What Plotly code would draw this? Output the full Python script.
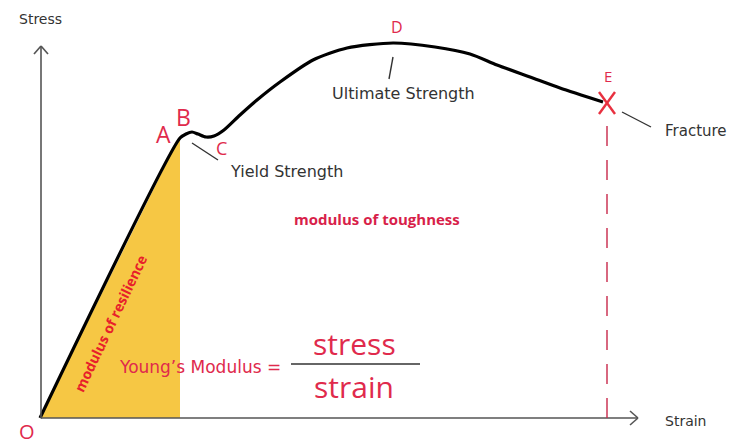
import plotly.graph_objects as go

# Origin of the diagram in page pixels: (40, 418); data units = pixels from origin
OX, OY = 40, 418

# Stress-strain curve (schematic)
strain = [0, 140, 146, 152, 158, 166, 174, 184, 200, 217, 240, 273, 307, 353, 395, 430, 457, 490, 520, 563]
stress = [0, 280, 284, 286, 284, 281, 282, 288, 303, 318, 336, 358, 370, 375, 371, 364, 353, 341, 330, 316]

# Elastic region (modulus of resilience) fill
res_strain = [0, 140, 140]
res_stress = [0, 282, 0]

# Point labels
pt_labels = ["A", "B", "C", "D", "E"]
pt_strain = [123, 143, 181, 357, 568]
pt_stress = [284, 301, 270, 391, 342]
pt_sizes = [23, 23, 18, 16, 15]

fracture_strain = 567
fracture_stress = 315

RED = "#e02a4c"
DARK = "#333333"
AXIS = "#555555"
FONT = "Open Sans"
SANS = "DejaVu Sans"
NARROW = "Liberation Sans Narrow, Open Sans"


def P(px, py):
    return px - OX, OY - py


fig = go.Figure()

fig.add_trace(go.Scatter(x=res_strain, y=res_stress, fill="toself", mode="lines",
                         line=dict(width=0), fillcolor="#f6c744", hoverinfo="skip"))
fig.add_trace(go.Scatter(x=strain, y=stress, mode="lines",
                         line=dict(color="black", width=3.2, shape="spline", smoothing=0.7),
                         hoverinfo="skip"))

shapes = []


def seg(p1, p2, color, width, dash=None):
    x0, y0 = P(*p1)
    x1, y1 = P(*p2)
    d = dict(type="line", xref="x", yref="y", x0=x0, y0=y0, x1=x1, y1=y1,
             line=dict(color=color, width=width))
    if dash:
        d["line"]["dash"] = dash
    shapes.append(d)


# axes
seg((41, 418), (638, 418), AXIS, 1.6)
seg((630, 411), (638, 418), AXIS, 1.6)
seg((630, 425), (638, 418), AXIS, 1.6)
seg((41, 418), (41, 46), AXIS, 1.6)
seg((34, 54), (41, 46), AXIS, 1.6)
seg((48, 54), (41, 46), AXIS, 1.6)

# fracture dashed line
shapes.append(dict(type="line", xref="x", yref="y", x0=fracture_strain, y0=0,
                   x1=fracture_strain, y1=fracture_stress - 10,
                   line=dict(color="#c8284a", width=1.4, dash="20px,14px")))
# fracture X
fx, fy = fracture_strain, fracture_stress
for dx in (-8, 8):
    shapes.append(dict(type="line", xref="x", yref="y", x0=fx - dx, y0=fy + 11,
                       x1=fx + dx, y1=fy - 11, line=dict(color="#e8303f", width=2.4)))

# leader lines
seg((192, 143), (218, 160), DARK, 1.4)
seg((393, 57), (389, 79), DARK, 1.4)
seg((622, 112), (651, 127), DARK, 1.4)

# fraction bar
seg((291, 364), (420, 364), DARK, 1.4)

ann = []


def text(px, py, s, size, color, family=FONT, angle=0, bold=False):
    x, y = P(px, py)
    if bold:
        s = "<b>" + s + "</b>"
    ann.append(dict(x=x, y=y, xref="x", yref="y", text=s, showarrow=False,
                    font=dict(family=family, size=size, color=color), textangle=angle,
                    xanchor="center", yanchor="middle"))


for lab, sx, sy, sz in zip(pt_labels, pt_strain, pt_stress, pt_sizes):
    ann.append(dict(x=sx, y=sy, xref="x", yref="y", text=lab, showarrow=False,
                    font=dict(family=FONT, size=sz, color=RED),
                    xanchor="center", yanchor="middle"))

text(27, 431, "O", 20, RED)
text(40, 19, "Stress", 14, DARK, family=SANS)
text(685, 421, "Strain", 14, DARK, family=SANS)
text(286, 171, "Yield Strength", 16, DARK, family=SANS)
text(403, 93, "Ultimate Strength", 16, DARK, family=SANS)
text(696, 131, "Fracture", 15, DARK, family=SANS)
text(377, 219, "modulus of toughness", 15, "#d81f4a", family=NARROW, bold=True)
text(110, 323, "modulus of resilience", 14, "#e8202a", family=NARROW, angle=-64.5, bold=True)
text(200, 367, "Young\u2019s Modulus =", 17, RED, family=SANS)
text(354, 343, "stress", 30, RED)
text(354, 386, "strain", 30, RED)

fig.update_layout(
    width=736, height=446,
    margin=dict(l=0, r=0, t=0, b=0),
    paper_bgcolor="white", plot_bgcolor="white",
    showlegend=False,
    xaxis=dict(range=[-OX, 736 - OX], visible=False, fixedrange=True),
    yaxis=dict(range=[OY - 446, OY], visible=False, fixedrange=True),
    shapes=shapes, annotations=ann,
)

fig.write_html("out.html", config={"displayModeBar": False},
               post_script="document.body.style.margin='0';")
